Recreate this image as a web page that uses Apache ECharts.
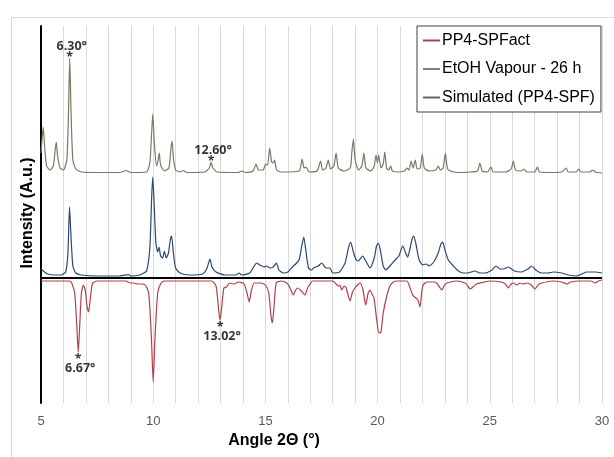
<!DOCTYPE html>
<html><head><meta charset="utf-8">
<script src="https://cdn.jsdelivr.net/npm/echarts@6/dist/echarts.min.js"></script>
<style>html,body{margin:0;padding:0;background:#fff}#c{width:614px;height:457px}</style>
</head><body><div id="c"></div>
<script>
// Series names
const seriesNames = ['PP4-SPFact', 'EtOH Vapour - 26 h', 'Simulated (PP4-SPF)'];
// x tick labels
const xTicks = [5, 10, 15, 20, 25, 30];

// Simulated (PP4-SPF) - top trace [2theta, intensity]
const simulated = [[5.0,125],[5.05,140],[5.1,151],[5.15,135],[5.25,112],[5.4,108],[5.55,112],[5.63,128],[5.68,136],[5.74,122],[5.85,110],[6.0,108],[6.15,118],[6.22,160],[6.28,220],[6.34,165],[6.42,118],[6.55,109],[6.8,106],[7.5,105.5],[8.5,105.5],[8.8,107.5],[9.0,105.5],[9.7,106],[9.85,115],[9.93,145],[9.98,164],[10.05,135],[10.15,112],[10.22,118],[10.27,125],[10.33,113],[10.5,107],[10.7,110],[10.79,130],[10.84,137],[10.9,120],[11.0,108],[11.2,106],[11.35,107.5],[11.5,105.5],[12.3,106],[12.5,110],[12.58,116],[12.66,110],[12.85,106],[13.8,105.5],[13.94,107],[14.1,105.5],[14.45,107],[14.58,114],[14.7,108],[14.9,108],[15.01,114],[15.1,113],[15.19,130],[15.28,116],[15.36,115],[15.41,118],[15.5,108],[15.7,106],[16.5,107],[16.64,119],[16.72,110],[16.81,111],[16.95,106],[17.3,107],[17.46,117],[17.55,108],[17.7,110],[17.8,118],[17.9,109],[18.05,112],[18.15,125],[18.25,110],[18.5,107],[18.78,110],[18.85,125],[18.92,139],[19.0,118],[19.15,108],[19.3,112],[19.39,125],[19.48,110],[19.7,107],[19.85,112],[19.93,123],[19.99,115],[20.05,123],[20.15,110],[20.25,114],[20.32,126],[20.4,110],[20.5,108],[20.58,112],[20.66,107],[20.9,106],[21.2,107],[21.3,110],[21.4,108],[21.49,117],[21.58,110],[21.68,118],[21.76,109],[21.9,110],[21.99,124],[22.08,110],[22.3,107],[22.6,108],[22.7,112],[22.8,108],[22.92,110],[23.02,125],[23.12,109],[23.4,106],[23.8,105.5],[24.12,106],[24.45,107],[24.56,115],[24.66,107],[24.9,106],[25.05,111],[25.15,106],[25.7,106],[25.95,109],[26.05,117],[26.15,108],[26.4,107],[26.52,109],[26.65,106],[27.0,106],[27.12,111],[27.22,106],[27.7,105.5],[28.2,106],[28.4,110],[28.5,106],[28.85,106],[28.96,109],[29.06,106],[29.45,106],[29.58,108],[29.7,106],[30,105]];

// EtOH Vapour - 26 h - middle trace
const etohVapour = [[5.0,9],[5.1,7],[5.3,4],[5.6,3],[5.9,3],[6.1,6],[6.2,25],[6.27,71],[6.33,45],[6.42,12],[6.55,5],[6.8,3],[7.5,2],[8.5,2],[8.8,3],[8.9,3.5],[9.0,2],[9.4,3],[9.7,7],[9.85,30],[9.93,80],[9.98,101],[10.05,70],[10.12,35],[10.2,26],[10.26,31],[10.33,22],[10.42,20],[10.5,27],[10.58,20],[10.68,25],[10.76,38],[10.82,42],[10.9,25],[11.0,10],[11.2,5],[11.6,3],[12.2,4],[12.4,10],[12.53,19],[12.62,11],[12.8,6],[13.2,3],[13.7,3],[13.82,5],[13.95,3],[14.3,5],[14.5,12],[14.61,15],[14.75,13],[14.95,11],[15.06,12],[15.2,10],[15.35,11],[15.49,15],[15.6,8],[15.8,5],[16.0,6],[16.25,12],[16.35,14],[16.5,18],[16.62,32],[16.71,41],[16.8,28],[16.92,10],[17.05,8],[17.15,10],[17.35,12],[17.51,15],[17.7,10],[17.88,10],[18.0,5],[18.3,6],[18.55,15],[18.7,30],[18.8,36],[18.92,26],[19.05,18],[19.14,17],[19.33,22],[19.45,18],[19.66,10],[19.85,20],[19.95,32],[20.03,35],[20.12,28],[20.25,12],[20.37,8],[20.55,12],[20.78,18],[20.95,22],[21.12,32],[21.25,25],[21.34,21],[21.45,30],[21.55,40],[21.61,42],[21.7,35],[21.85,18],[22.01,13],[22.15,14],[22.3,12],[22.5,16],[22.7,25],[22.82,34],[22.9,36],[23.0,28],[23.15,18],[23.38,12],[23.6,7],[23.82,5],[24.0,5],[24.34,7],[24.55,5],[24.79,5],[25.1,8],[25.28,12],[25.45,9],[25.6,9],[25.82,11],[26.1,7],[26.4,6],[26.7,9],[26.87,12],[27.05,8],[27.3,5],[27.6,5],[27.83,6],[28.2,5],[28.5,3],[28.87,2],[29.1,4],[29.32,6],[29.7,6],[30,5]];

// PP4-SPFact - bottom (inverted) trace
const pp4SPFact = [[5.0,-3],[6.2,-3],[6.35,-4],[6.5,-15],[6.6,-50],[6.66,-74],[6.72,-50],[6.8,-15],[6.89,-7],[6.97,-12],[7.05,-28],[7.12,-34],[7.2,-20],[7.3,-5],[7.5,-3],[8.8,-3],[8.95,-5],[9.1,-5],[9.3,-6],[9.5,-6],[9.65,-7],[9.8,-15],[9.92,-60],[10.0,-104],[10.08,-60],[10.2,-15],[10.35,-5],[10.5,-3],[12.6,-3],[12.8,-8],[12.93,-35],[12.98,-42],[13.05,-30],[13.15,-10],[13.27,-9],[13.4,-5],[13.6,-6],[13.8,-4],[14.05,-6],[14.18,-15],[14.28,-24],[14.38,-12],[14.5,-5],[14.8,-5],[15.0,-7],[15.15,-15],[15.25,-38],[15.31,-45],[15.38,-30],[15.48,-5],[15.7,-3],[15.95,-5],[16.1,-10],[16.24,-17],[16.35,-12],[16.45,-10],[16.6,-13],[16.76,-17],[16.88,-10],[16.96,-7],[17.1,-3],[18.0,-3],[18.15,-6],[18.25,-8],[18.32,-7],[18.4,-12],[18.5,-8],[18.6,-10],[18.77,-23],[18.88,-14],[18.99,-10],[19.1,-7],[19.22,-5],[19.35,-12],[19.47,-27],[19.58,-15],[19.66,-12],[19.75,-16],[19.84,-20],[19.95,-40],[20.06,-55],[20.15,-54],[20.25,-35],[20.41,-18],[20.55,-8],[20.7,-4],[20.86,-3],[21.3,-3],[21.45,-10],[21.56,-17],[21.65,-19],[21.71,-20],[21.8,-22],[21.89,-29],[21.96,-15],[22.03,-7],[22.2,-4],[22.5,-4],[22.63,-5],[22.75,-9],[22.86,-12],[22.98,-7],[23.1,-5],[23.5,-3],[23.9,-5],[24.05,-9],[24.12,-11],[24.25,-9],[24.4,-6],[24.56,-5],[25.0,-3],[25.5,-4],[25.7,-6],[25.82,-10],[25.95,-6],[26.05,-5],[26.2,-7],[26.35,-5],[26.5,-6],[26.65,-5],[26.85,-7],[27.01,-11],[27.15,-7],[27.32,-5],[27.8,-3],[28.2,-4],[28.43,-6],[28.6,-4],[29.0,-3],[29.5,-3],[29.69,-5],[29.85,-3],[30,-2]];

// Peak annotations
const annotAngles = [6.28, 12.58, 6.66, 12.98];
const annotValues = [220, 116, -74, -42];
const annotLabels = ['6.30°', '12.60°', '6.67°', '13.02°'];

const colors = {fact: '#b2404a', etoh: '#2c4770', sim: '#6f7f63'};

const chart = echarts.init(document.getElementById('c'), null, {renderer: 'canvas'});

const annotFont = {fontFamily: 'Open Sans', fontWeight: 'bold', fontSize: 12.5, color: '#000'};
const annotData = annotAngles.map((a, i) => {
  const up = annotValues[i] > 0;
  return {
    value: [a, annotValues[i]],
    label: {
      show: true,
      position: up ? 'top' : 'bottom',
      distance: up ? -3 : 3,
      formatter: up ? ('{t|' + annotLabels[i] + '}\n{s|*}') : ('{s|*}\n{t|' + annotLabels[i] + '}'),
      rich: {
        t: Object.assign({}, annotFont, {lineHeight: up ? 13 : 10, padding: [0, 0, 0, 4]}),
        s: Object.assign({}, annotFont, {lineHeight: 8})
      }
    }
  };
});

const option = {
  animation: false,
  backgroundColor: '#fff',
  grid: {left: 41, right: 12, top: 26, bottom: 54, containLabel: false},
  legend: {
    show: true,
    orient: 'vertical',
    left: 417, top: 26,
    padding: [6, 6, 6, 6],
    itemGap: 11.5,
    itemWidth: 17, itemHeight: 2,
    backgroundColor: '#fff',
    borderColor: '#404040', borderWidth: 1,
    textStyle: {fontFamily: 'Liberation Sans, Arial', fontSize: 16, color: '#000', lineHeight: 17, padding: [0, 0, 0, -3]},
    data: [
      {name: seriesNames[0], icon: 'rect', itemStyle: {color: colors.fact}},
      {name: seriesNames[1], icon: 'rect', itemStyle: {color: '#6b8497'}},
      {name: seriesNames[2], icon: 'rect', itemStyle: {color: '#5b6a4a'}}
    ]
  },
  xAxis: {
    type: 'value', min: 5, max: 30, interval: 5,
    axisLine: {show: false},
    axisTick: {show: false},
    axisLabel: {fontFamily: 'Liberation Sans, Arial', fontSize: 13, color: '#595959', margin: 12,
      formatter: v => (xTicks.indexOf(v) >= 0 ? String(v) : '')},
    splitLine: {show: true, lineStyle: {color: '#d9d9d9', width: 1}},
    minorTick: {show: false, splitNumber: 5},
    minorSplitLine: {show: true, lineStyle: {color: '#d9d9d9', width: 1}}
  },
  yAxis: {
    type: 'value', min: -125, max: 252,
    axisLine: {show: true, onZero: false, lineStyle: {color: '#000', width: 2}},
    axisTick: {show: false},
    axisLabel: {show: false},
    splitLine: {show: false}
  },
  graphic: [
    {type: 'rect', left: 9, top: 15, shape: {width: 640, height: 480}, style: {fill: 'none', stroke: '#d9d9d9', lineWidth: 1}, z: -1, silent: true},
    {type: 'text', x: 28, y: 213, rotation: Math.PI / 2,
      style: {text: 'Intensity (A.u.)', fontFamily: 'Liberation Sans, Arial', fontWeight: 'bold', fontSize: 16, fill: '#000', textAlign: 'center', textVerticalAlign: 'middle'}},
    {type: 'text', x: 274, y: 441,
      style: {text: 'Angle 2\u0398 (°)', fontFamily: 'Liberation Sans, Arial', fontWeight: 'bold', fontSize: 16, fill: '#000', textAlign: 'center', textVerticalAlign: 'middle'}}
  ],
  series: [
    {name: seriesNames[0], type: 'line', data: pp4SPFact, showSymbol: false, smooth: 0.2,
      lineStyle: {color: colors.fact, width: 1.2}, itemStyle: {color: colors.fact}, z: 3,
      markLine: {silent: true, symbol: 'none', label: {show: false}, lineStyle: {color: '#000', width: 2, type: 'solid'}, data: [{yAxis: 0}]}},
    {name: seriesNames[1], type: 'line', data: etohVapour, showSymbol: false, smooth: 0.2,
      lineStyle: {color: colors.etoh, width: 1.2}, itemStyle: {color: colors.etoh}, z: 3},
    {name: seriesNames[2], type: 'line', data: simulated, showSymbol: false, smooth: 0.2,
      lineStyle: {color: colors.sim, width: 1.2}, itemStyle: {color: colors.sim}, z: 3},
    {name: 'annotations', type: 'scatter', data: annotData, symbolSize: 0, silent: true, z: 5}
  ]
};
chart.setOption(option);
</script>
</body></html>
